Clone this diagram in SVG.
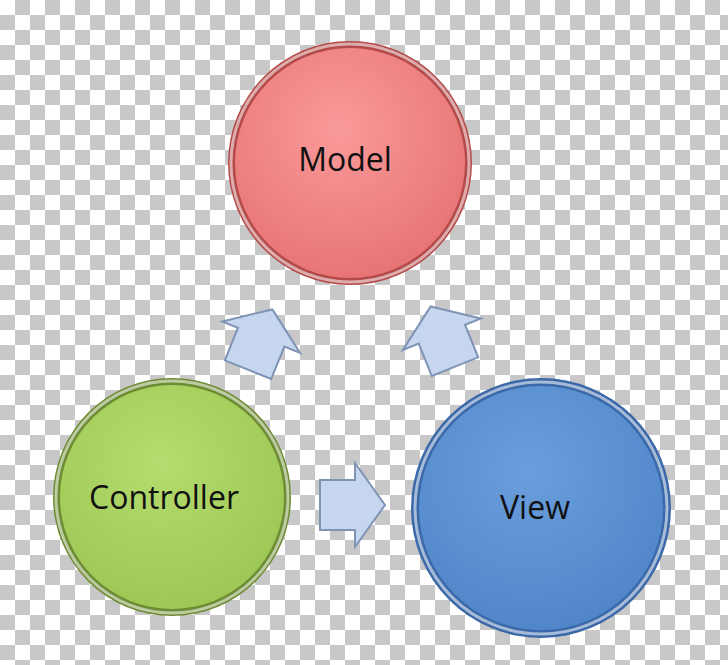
<svg xmlns="http://www.w3.org/2000/svg" width="728" height="665" viewBox="0 0 728 665">
<defs>
<pattern id="chk" width="30" height="30" patternUnits="userSpaceOnUse">
<rect width="30" height="30" fill="#fff"/>
<rect x="15" y="0" width="15" height="15" fill="#c8c8c8"/>
<rect x="0" y="15" width="15" height="15" fill="#c8c8c8"/>
</pattern>
<radialGradient id="gm" cx="0.45" cy="0.35" r="0.7"><stop offset="0" stop-color="#fa9a9a"/><stop offset="1" stop-color="#e67272"/></radialGradient>
<radialGradient id="gc" cx="0.45" cy="0.35" r="0.7"><stop offset="0" stop-color="#b5dc6e"/><stop offset="1" stop-color="#9cc653"/></radialGradient>
<radialGradient id="gv" cx="0.45" cy="0.35" r="0.7"><stop offset="0" stop-color="#6a9edc"/><stop offset="1" stop-color="#4f85c8"/></radialGradient>
<path id="arr" d="M-32,-25 H3 V-42 L33,0 L3,42 V25 H-32 Z"/>
</defs>
<style>
.lbl{font-family:"Open Sans","Liberation Sans",sans-serif;font-size:32px;fill:#111;text-anchor:middle;dominant-baseline:central}
.ar{fill:#c6d6ef;stroke:#7f93b5;stroke-width:2;stroke-linejoin:miter}
.rim{fill:none;stroke:#fff;stroke-opacity:0.55;stroke-width:3}
</style>
<rect width="728" height="665" fill="url(#chk)"/>
<g id="connectors">
<use href="#arr" class="ar" transform="translate(320,505) translate(32,0)"/>
<use href="#arr" class="ar" transform="translate(260,340) rotate(-68)"/>
<use href="#arr" class="ar" transform="translate(443,337) rotate(-112)"/>
</g>
<g id="model">
<circle cx="350" cy="163" r="122" fill="#b44a4a"/>
<circle cx="350" cy="163" r="115" fill="url(#gm)"/>
<circle cx="350" cy="163" r="119" class="rim"/>
<text x="345" y="158" class="lbl">Model</text>
</g>
<g id="controller">
<circle cx="172" cy="497" r="119" fill="#6e8c34"/>
<circle cx="172" cy="497" r="112" fill="url(#gc)"/>
<circle cx="172" cy="497" r="116" class="rim"/>
<text x="164" y="496" class="lbl">Controller</text>
</g>
<g id="view">
<circle cx="541" cy="508" r="130" fill="#3a68a8"/>
<circle cx="541" cy="508" r="122" fill="url(#gv)"/>
<circle cx="541" cy="508" r="126" class="rim"/>
<text x="535" y="506" class="lbl">View</text>
</g>
</svg>
